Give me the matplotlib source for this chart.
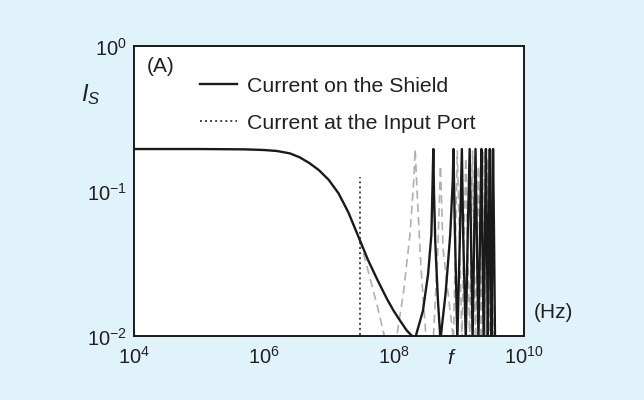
import numpy as np
import matplotlib
matplotlib.use("Agg")
import matplotlib.pyplot as plt
from matplotlib.ticker import LogFormatterMathtext, NullLocator

plt.rcParams['font.family'] = ['Liberation Sans', 'DejaVu Sans']
plt.rcParams['mathtext.fontset'] = 'custom'
plt.rcParams['mathtext.rm'] = 'Liberation Sans'
plt.rcParams['mathtext.it'] = 'Liberation Sans:italic'
plt.rcParams['mathtext.bf'] = 'Liberation Sans:bold'

# ---- data (log10 frequency in Hz, current magnitude) ----
shield_logf = [4.0, 5.0, 5.7, 6.0, 6.2, 6.4, 6.55, 6.7, 6.85, 7.0, 7.15, 7.3, 7.48, 7.6, 7.75,
               7.9, 8.0, 8.1, 8.2, 8.27, 8.33,
               8.45, 8.53, 8.58, 8.60, 8.61, 8.62, 8.64, 8.68, 8.72,
               8.80, 8.87, 8.91, 8.92, 8.94, 8.98,
               9.02, 9.05, 9.07, 9.11, 9.14, 9.17, 9.19, 9.215, 9.24, 9.26, 9.28, 9.305,
               9.33, 9.35, 9.365, 9.385, 9.405, 9.42, 9.435, 9.45, 9.465, 9.48, 9.49, 9.505,
               9.52, 9.53, 9.545, 9.56]
shield_I = [0.196, 0.196, 0.195, 0.193, 0.19, 0.183, 0.172, 0.157, 0.14, 0.12, 0.097, 0.072, 0.046,
            0.034, 0.0245, 0.018, 0.015, 0.0128, 0.011, 0.0102, 0.0097,
            0.015, 0.027, 0.05, 0.12, 0.196, 0.1, 0.045, 0.018, 0.0095,
            0.02, 0.05, 0.12, 0.196, 0.06, 0.0095,
            0.05, 0.196, 0.05, 0.0095, 0.05, 0.196, 0.05, 0.0095, 0.05, 0.196, 0.05, 0.0095,
            0.05, 0.196, 0.05, 0.0095, 0.05, 0.196, 0.05, 0.0095, 0.05, 0.196, 0.05, 0.0095,
            0.05, 0.196, 0.05, 0.0095]

alt_logf = [7.48, 7.6, 7.75, 7.87, 8.04, 8.15, 8.25, 8.31, 8.33, 8.36, 8.42, 8.50,
            8.61, 8.68, 8.72, 8.76, 8.92, 8.98, 9.05, 9.11, 9.17, 9.215, 9.26, 9.305,
            9.35, 9.385, 9.42, 9.45, 9.48, 9.505, 9.53]
alt_I = [0.046, 0.029, 0.016, 0.0095, 0.0095, 0.02, 0.05, 0.12, 0.196, 0.1, 0.03, 0.0095,
         0.0095, 0.04, 0.15, 0.04, 0.0095, 0.19, 0.0095, 0.17, 0.0095, 0.19, 0.0095, 0.15,
         0.0095, 0.19, 0.0095, 0.17, 0.0095, 0.19, 0.0095]

port_logf = [7.48, 7.48]
port_I = [0.0095, 0.126]

xticks = [1e4, 1e6, 1e8, 1e10]
yticks = [1e-2, 1e-1, 1e0]
labels = ["Current on the Shield", "Current at the Input Port"]

bg = '#e0f2fa'
txt = '#231f20'

fig = plt.figure(figsize=(6.44, 4.00), dpi=100, facecolor=bg)
ax = fig.add_axes([0.208, 0.159, 0.605, 0.725])
ax.set_facecolor('white')

ax.plot(10 ** np.array(alt_logf), alt_I, color='#b0b0b0', lw=1.2, ls=(0, (5, 3)), zorder=2)
l1, = ax.plot(10 ** np.array(shield_logf), shield_I, color='#1a1a1a', lw=1.7, zorder=3,
              label=labels[0])
l2, = ax.plot(10 ** np.array(port_logf), port_I, color='#444444', lw=1.4, ls=(0, (1, 1.6)),
              zorder=2, label=labels[1])

ax.set_xscale('log')
ax.set_yscale('log')
ax.set_xlim(1e4, 1e10)
ax.set_ylim(1e-2, 1e0)
ax.set_xticks(xticks)
ax.set_yticks(yticks)
ax.xaxis.set_major_formatter(LogFormatterMathtext())
ax.yaxis.set_major_formatter(LogFormatterMathtext())
ax.xaxis.set_minor_locator(NullLocator())
ax.yaxis.set_minor_locator(NullLocator())
ax.tick_params(axis='both', length=0, labelsize=14.5, colors=txt)
ax.tick_params(axis='x', pad=7)
ax.tick_params(axis='y', pad=5)
for s in ax.spines.values():
    s.set_linewidth(1.4)
    s.set_color('#1a1a1a')

ax.legend(handles=[l1, l2], loc='upper left', bbox_to_anchor=(0.169, 0.895),
          frameon=False, fontsize=15.3, handlelength=1.75, handletextpad=0.45,
          labelspacing=0.85, borderpad=0, borderaxespad=0, labelcolor=txt)

ax.text(0.033, 0.93, '(A)', transform=ax.transAxes, fontsize=15, color=txt,
        ha='left', va='center')
ax.text(-0.11, 0.835, r'$I_S$', transform=ax.transAxes, fontsize=17, color=txt,
        ha='center', va='center')
ax.text(1.027, 0.084, '(Hz)', transform=ax.transAxes, fontsize=15, color=txt,
        ha='left', va='center')
ax.annotate('f', xy=(10 ** 8.87, 0), xycoords=('data', 'axes fraction'),
            xytext=(0, -16), textcoords='offset points', fontsize=15, style='italic',
            color=txt, ha='center', va='center')

fig.savefig('out.png', dpi=100, facecolor=bg)
